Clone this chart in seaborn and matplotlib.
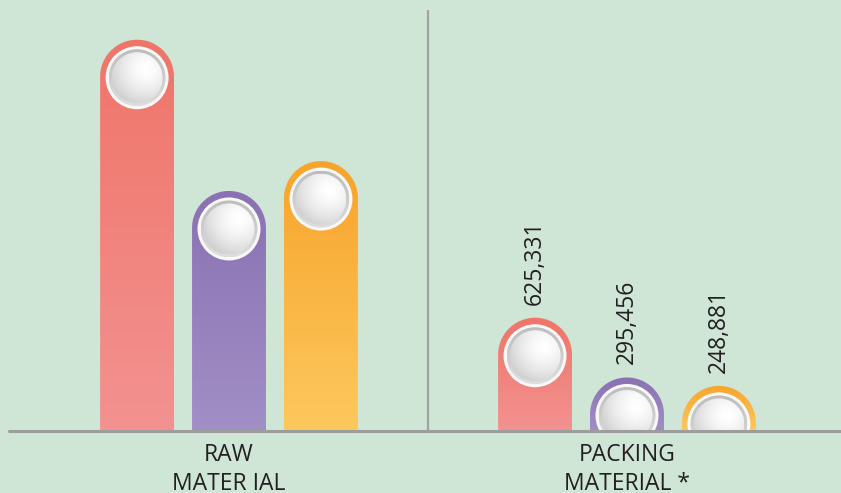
import numpy as np
import pandas as pd
import matplotlib
matplotlib.use("Agg")
import matplotlib.pyplot as plt
import seaborn as sns
from matplotlib.path import Path
from matplotlib.patches import PathPatch, Ellipse
from matplotlib.colors import to_rgb

# ---- data -------------------------------------------------------------
categories = ["RAW\nMATER IAL", "PACKING\nMATERIAL *"]
series = ["Series A", "Series B", "Series C"]
raw_values = [2160000, 1325000, 1490000]
packing_values = [625331, 295456, 248881]
show_value_labels = [False, True]

# ---- style ------------------------------------------------------------
BG = "#cfe6d6"
TEXT = "#231f20"
top_colors = ["#ef7569", "#8a71b3", "#f7a42b"]
bottom_colors = ["#f39291", "#a28fc6", "#fdc85e"]

sns.set_style("white")
plt.rcParams["font.family"] = ["Open Sans", "DejaVu Sans"]

df = pd.DataFrame({
    "material": np.repeat(categories, len(series)),
    "series": series * len(categories),
    "value": raw_values + packing_values,
})

W, H = 841, 493
fig = plt.figure(figsize=(W / 100, H / 100), dpi=100, facecolor=BG)
ax_px = (9, 62, 832, 421)  # left, bottom, width, height in pixels
ax = fig.add_axes([ax_px[0] / W, ax_px[1] / H, ax_px[2] / W, ax_px[3] / H])
ax.set_facecolor(BG)

sns.barplot(data=df, x="material", y="value", hue="series",
            palette=dict(zip(series, top_colors)), saturation=1,
            width=0.693, gap=0.196, errorbar=None, legend=False, ax=ax)

XL = (-0.5528, 1.5377)
YL = (0, 2324000)
ax.set_xlim(*XL)
ax.set_ylim(*YL)
ax.set_autoscale_on(False)
px_x = ax_px[2] / (XL[1] - XL[0])   # pixels per x unit
px_y = ax_px[3] / (YL[1] - YL[0])   # pixels per y unit

top_rgb = np.array([to_rgb(c) for c in top_colors])


def vgrad(c_bottom, c_top, n=256):
    a = np.array(to_rgb(c_bottom))
    b = np.array(to_rgb(c_top))
    t = np.linspace(0, 1, n)[:, None]
    return (a + (b - a) * t)[:, None, :]


def face_grad(c_light, c_dark, n=128):
    # bright spot up and to the right, shading towards the lower left rim
    a = np.array(to_rgb(c_light))
    b = np.array(to_rgb(c_dark))
    u, v = np.meshgrid(np.linspace(-1, 1, n), np.linspace(-1, 1, n))
    d = np.hypot(u - 0.35, v - 0.35) / 1.75
    t = np.clip(d, 0, 1)[..., None] ** 1.6
    return a + (b - a) * t


bars = list(ax.patches)
for p in bars:
    x0, w, h = p.get_x(), p.get_width(), p.get_height()
    xc = x0 + w / 2
    fc = np.array(p.get_facecolor()[:3])
    k = int(np.argmin(((top_rgb - fc) ** 2).sum(axis=1)))
    p.remove()

    rx = w / 2
    ry = rx * px_x / px_y
    cy = h - ry
    ang = np.linspace(np.pi, 0, 60)
    verts = [(x0, 0), (x0, cy)]
    verts += list(zip(xc + rx * np.cos(ang), cy + ry * np.sin(ang)))
    verts += [(x0 + w, 0), (x0, 0)]
    codes = [Path.MOVETO] + [Path.LINETO] * (len(verts) - 2) + [Path.CLOSEPOLY]
    shape = PathPatch(Path(verts, codes), facecolor="none", edgecolor="none",
                      transform=ax.transData)
    ax.add_patch(shape)
    im = ax.imshow(vgrad(bottom_colors[k], top_colors[k]), origin="lower",
                   extent=[x0, x0 + w, 0, h], aspect="auto", zorder=2,
                   interpolation="bilinear")
    im.set_clip_path(shape)

    # button on top of the bar
    ccy = h - 38 / px_y
    ax.add_patch(Ellipse((xc, ccy), 2 * 31.5 / px_x, 2 * 31.5 / px_y,
                         facecolor="#f8f8f8", edgecolor="none", zorder=3))
    rr = 28.5
    ring = Ellipse((xc, ccy), 2 * rr / px_x, 2 * rr / px_y,
                   facecolor="none", edgecolor="none", transform=ax.transData)
    ax.add_patch(ring)
    im2 = ax.imshow(vgrad("#dedede", "#bdbdbd"), origin="lower",
                    extent=[xc - rr / px_x, xc + rr / px_x,
                            ccy - rr / px_y, ccy + rr / px_y],
                    aspect="auto", zorder=4, interpolation="bilinear")
    im2.set_clip_path(ring)
    rf = 25.5
    face = Ellipse((xc, ccy), 2 * rf / px_x, 2 * rf / px_y,
                   facecolor="none", edgecolor="none", transform=ax.transData)
    ax.add_patch(face)
    im3 = ax.imshow(face_grad("#ffffff", "#c2c2c2"), origin="lower",
                    extent=[xc - rf / px_x, xc + rf / px_x,
                            ccy - rf / px_y, ccy + rf / px_y],
                    aspect="auto", zorder=5, interpolation="bilinear")
    im3.set_clip_path(face)

    cat_idx = 0 if xc < 0.5 else 1
    if show_value_labels[cat_idx]:
        ax.annotate(f"{int(round(h)):,}", xy=(xc, h), xytext=(0, 9.5),
                    textcoords="offset points", rotation=90, ha="center",
                    va="bottom", fontsize=16.5, color=TEXT, zorder=6)

ax.set_xlim(*XL)
ax.set_ylim(*YL)

# divider between the groups and the baseline
ax.axvline(0.5, color="#a3a3a3", lw=1.6, zorder=1)
ax.axhline(0, color="#9d9d9d", lw=2.2, clip_on=False, zorder=7)

for s in ax.spines.values():
    s.set_visible(False)
ax.set_yticks([])
ax.set_xlabel("")
ax.set_ylabel("")
ax.tick_params(axis="x", length=0, pad=8.5, labelsize=16.5, labelcolor=TEXT)
for lbl in ax.get_xticklabels():
    lbl.set_linespacing(1.3)

fig.savefig("out.png", dpi=100, facecolor=BG)
